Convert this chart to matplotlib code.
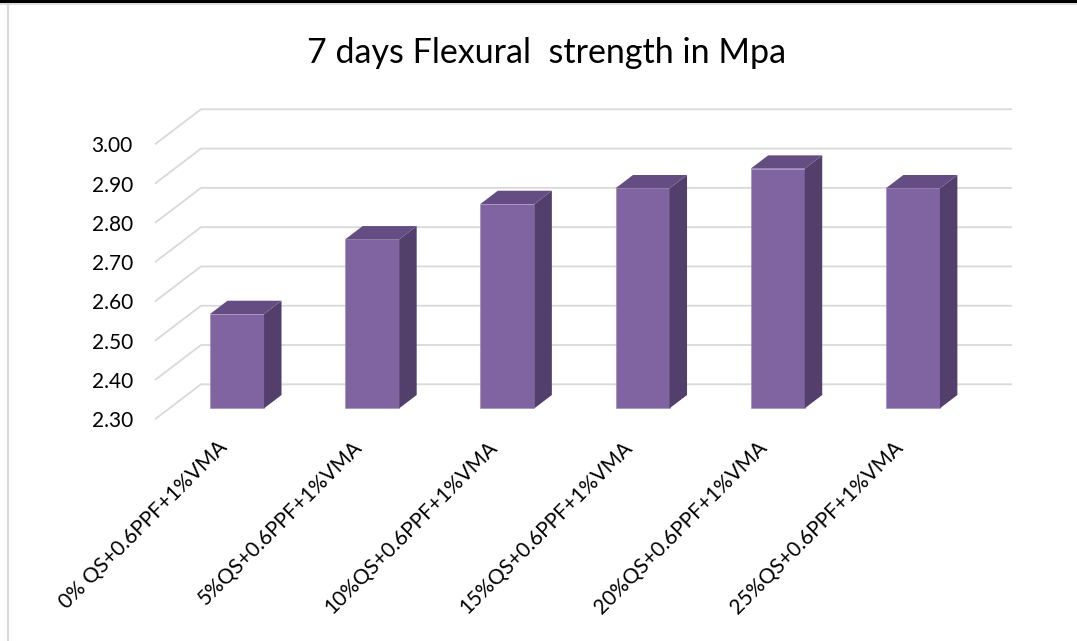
import matplotlib
matplotlib.use("Agg")
import matplotlib.pyplot as plt
from matplotlib.patches import Polygon, Rectangle
from matplotlib.lines import Line2D
from matplotlib.transforms import ScaledTranslation
import numpy as np

# Data
categories = [
    "0% QS+0.6PPF+1%VMA",
    "5%QS+0.6PPF+1%VMA",
    "10%QS+0.6PPF+1%VMA",
    "15%QS+0.6PPF+1%VMA",
    "20%QS+0.6PPF+1%VMA",
    "25%QS+0.6PPF+1%VMA",
]
strength = [2.54, 2.73, 2.82, 2.86, 2.91, 2.86]
y_ticks = [2.30, 2.40, 2.50, 2.60, 2.70, 2.80, 2.90, 3.00]
title = "7 days Flexural  strength in Mpa"

# Styling
FONT = "Lato"
FRONT = "#8064A2"
SIDE = "#523F6B"
TOP = "#634D83"
GRID = "#D9D9D9"

# Pseudo-3D depth: offset of the back wall in data units
DX = 0.34      # along category axis
DY = 0.0891    # along value axis
D_FRONT = 0.314
D_BACK = 0.694
HALF_W = 0.2
y_min, y_max = y_ticks[0], y_ticks[-1]


def proj(x, v, d):
    return (x + d * DX, v + d * DY)


fig = plt.figure(figsize=(10.77, 6.41), dpi=100)
fig.patch.set_facecolor("white")
ax = fig.add_axes([155 / 1077, (641 - 419.3) / 641, 857 / 1077, 310 / 641])
n = len(categories)
ax.set_xlim(-0.5, n - 0.5 + DX)
ax.set_ylim(y_min, y_max + DY)
for s in ax.spines.values():
    s.set_visible(False)
ax.set_facecolor("none")

# Gridlines: back wall + left side wall
for t in y_ticks:
    x0, y0 = proj(-0.5, t, 0)
    x1, y1 = proj(-0.5, t, 1)
    x2, y2 = proj(n - 0.5, t, 1)
    ax.plot([x0, x1, x2], [y0, y1, y2], color=GRID, lw=1.3,
            solid_capstyle="butt", zorder=1, clip_on=False)

# Bars
xs = np.arange(n)
base = y_min
ax.bar(xs + D_FRONT * DX, np.array(strength) - base, bottom=base + D_FRONT * DY,
       width=2 * HALF_W, color=FRONT, edgecolor="#9A88B6", linewidth=0.4, zorder=3)
for x, v in zip(xs, strength):
    side = [proj(x + HALF_W, base, D_FRONT), proj(x + HALF_W, base, D_BACK),
            proj(x + HALF_W, v, D_BACK), proj(x + HALF_W, v, D_FRONT)]
    top = [proj(x - HALF_W, v, D_FRONT), proj(x + HALF_W, v, D_FRONT),
           proj(x + HALF_W, v, D_BACK), proj(x - HALF_W, v, D_BACK)]
    ax.add_patch(Polygon(side, closed=True, facecolor=SIDE, edgecolor="none", zorder=3))
    ax.add_patch(Polygon(top, closed=True, facecolor=TOP, edgecolor="none", zorder=3))

# Axes labels
ax.set_yticks(y_ticks)
ax.set_yticklabels([f"{t:.2f}" for t in y_ticks], fontsize=15, family=FONT, color="#000000")
ax.tick_params(axis="y", length=0, pad=16)
ax.set_xticks(xs)
ax.set_xticklabels(categories, rotation=45, ha="right", va="top",
                   rotation_mode="anchor", fontsize=15, family=FONT)
ax.tick_params(axis="x", length=0, pad=13)
shift = ScaledTranslation(-6 / 100, 0, fig.dpi_scale_trans)
for lbl in ax.get_xticklabels():
    lbl.set_transform(lbl.get_transform() + shift)

fig.text(547 / 1077, 1 - 53 / 641, title, ha="center", va="center",
         fontsize=24.5, family=FONT, color="#000000")

# Frame decorations
fig.add_artist(Rectangle((0, 1 - 3 / 641), 1, 3 / 641, transform=fig.transFigure,
                         facecolor="black", edgecolor="none"))
fig.add_artist(Line2D([0, 1], [1 - 4 / 641, 1 - 4 / 641], transform=fig.transFigure,
                      color=GRID, lw=1.2))
fig.add_artist(Line2D([7.5 / 1077, 7.5 / 1077], [0, 1 - 4 / 641], transform=fig.transFigure,
                      color=GRID, lw=1.5))

fig.savefig("out.png", dpi=100, facecolor="white")
